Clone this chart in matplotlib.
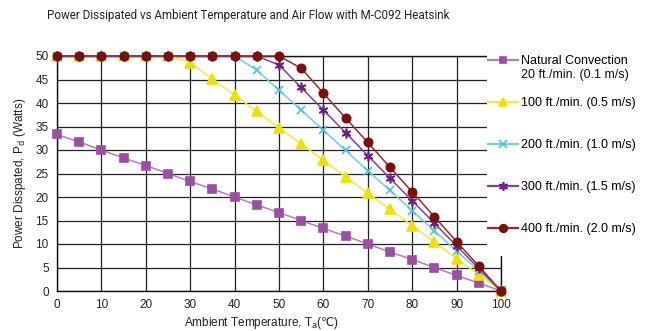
import matplotlib
matplotlib.use("Agg")
import matplotlib.pyplot as plt
from matplotlib.lines import Line2D
from matplotlib.patches import Rectangle

plt.rcParams['font.family'] = ['Liberation Sans', 'DejaVu Sans']

temps = [0, 5, 10, 15, 20, 25, 30, 35, 40, 45, 50, 55, 60, 65, 70, 75, 80, 85, 90, 95, 100]

natural = [33.3, 31.7, 30.0, 28.3, 26.7, 25.0, 23.3, 21.7, 20.0, 18.3, 16.7,
           15.0, 13.3, 11.7, 10.0, 8.3, 6.7, 5.0, 3.3, 1.7, 0.0]
ft100 = [50, 50, 50, 50, 50, 50, 48.6, 45.1, 41.7, 38.2, 34.7,
         31.3, 27.8, 24.3, 20.8, 17.4, 13.9, 10.4, 6.9, 3.5, 0.0]
ft200 = [50, 50, 50, 50, 50, 50, 50, 50, 50, 47.0, 42.7,
         38.5, 34.2, 29.9, 25.6, 21.4, 17.1, 12.8, 8.5, 4.3, 0.0]
ft300 = [50, 50, 50, 50, 50, 50, 50, 50, 50, 50, 48.1,
         43.3, 38.5, 33.7, 28.8, 24.0, 19.2, 14.4, 9.6, 4.8, 0.0]
ft400 = [50, 50, 50, 50, 50, 50, 50, 50, 50, 50, 50,
         47.4, 42.1, 36.8, 31.6, 26.3, 21.1, 15.8, 10.5, 5.3, 0.0]

labels = ["Natural Convection", "100 ft./min. (0.5 m/s)", "200 ft./min. (1.0 m/s)",
          "300 ft./min. (1.5 m/s)", "400 ft./min. (2.0 m/s)"]

# (line colour, marker colour, marker, size)
styles = [
    ("#b77bbd", "#9b4fa3", "s", 5.5),
    ("#f3ea3a", "#eee000", "^", 6.5),
    ("#6fcfdf", "#4cc3d9", "x", 6),
    ("#8a3a9a", "#6e1f85", (6, 2, 0), 7),
    ("#9a2a2a", "#7c0e0e", "o", 6),
]

W, H = 656, 331
fig = plt.figure(figsize=(W / 100, H / 100), dpi=100)
ax = fig.add_axes([57 / W, 1 - 291 / H, 444 / W, 235 / H])

series = [natural, ft100, ft200, ft300, ft400]
handles = []
for vals, (lc, mc, mk, ms) in zip(series, styles):
    ax.plot(temps, vals, color=lc, lw=1.1, marker=mk, ms=ms,
            mfc=mc, mec=mc, mew=1.2, clip_on=False, zorder=3)
    handles.append(Line2D([], [], color=lc, lw=1.6, marker=mk, ms=ms - 0.5,
                          mfc=mc, mec=mc, mew=1.2))

ax.set_xlim(0, 100)
ax.set_ylim(0, 50)
ax.set_xticks(range(0, 101, 10))
ax.set_yticks(range(0, 51, 5))
ax.grid(True, color="#222222", lw=0.9)
for s in ax.spines.values():
    s.set_color("#111111")
    s.set_linewidth(1.0)
ax.tick_params(length=0, labelsize=8.5, colors="#222222", pad=6)
ax.set_axisbelow(True)

# white panel behind legend, covering the top right corner of the grid
fig.patches.append(Rectangle((487 / W, 1 - 256 / H), (W - 487) / W, 216 / H,
                             transform=fig.transFigure, facecolor="white",
                             edgecolor="none", zorder=5))

rows = [61, 103, 145, 187, 229]
for h, lab, y in zip(handles, labels, rows):
    lg = fig.legend(handles=[h], labels=[lab], loc="center left",
                    bbox_to_anchor=(488 / W, 1 - y / H), frameon=False,
                    fontsize=9, handlelength=2.4, handletextpad=0.25,
                    borderpad=0, borderaxespad=0)
    lg.set_zorder(6)
fig.text(521 / W, 1 - 75 / H, "20 ft./min. (0.1 m/s)", fontsize=9,
         va="center", ha="left", color="#111111", zorder=6)

fig.text(47 / W, 1 - 16 / H,
         "Power Dissipated vs Ambient Temperature and Air Flow with M-C092 Heatsink",
         fontsize=8.4, family=["Liberation Sans Narrow", "Roboto", "DejaVu Sans"],
         color="#222222", va="center", ha="left", zorder=7)
fig.text(262 / W, 1 - 323 / H, "Ambient Temperature, T$_\\mathrm{a}$($\u2103$)",
         fontsize=8.5, ha="center", va="center", color="#222222")
fig.text(20 / W, 1 - 173 / H, "Power Disspated, P$_\\mathrm{d}$ (Watts)", fontsize=8.5,
         rotation=90, ha="center", va="center", color="#222222")

fig.savefig("out.png", dpi=100)
